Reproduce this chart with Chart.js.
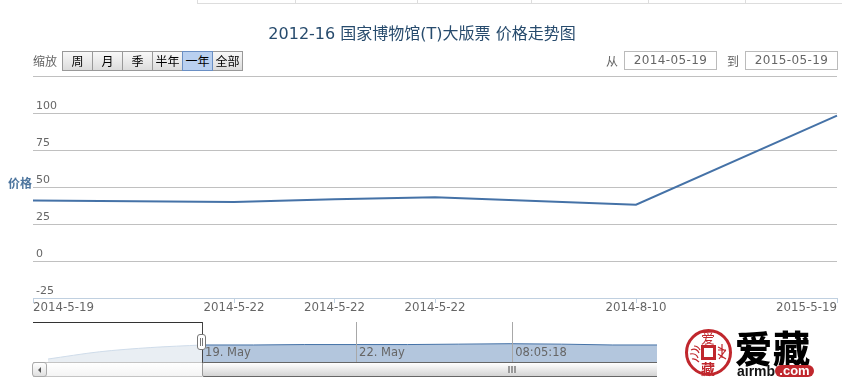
<!DOCTYPE html>
<html>
<head>
<meta charset="utf-8">
<script src="https://cdn.jsdelivr.net/npm/chart.js@4/dist/chart.umd.min.js"></script>
<style>
html,body{margin:0;padding:0;background:#fff;}
#page{position:relative;width:842px;height:386px;overflow:hidden;font-family:"DejaVu Sans","Noto Sans CJK SC",sans-serif;color:#666;}
#page div,#page span{position:absolute;box-sizing:border-box;}
#page svg{position:absolute;}
#main{position:absolute;left:0;top:0;width:842px;height:386px;}
#navWrap{position:absolute;left:47px;top:322px;width:610px;height:40px;}
.cell{top:0;height:4px;border-left:1px solid #ddd;border-bottom:1px solid #ddd;}
.btn{top:51px;width:31px;height:20px;border:1px solid #999;background:linear-gradient(#f8f8f8,#dcdcdc);color:#000;font-size:12px;line-height:18px;text-align:center;font-family:"Noto Sans CJK SC",sans-serif;}
.btn.on{background:#b9d0f0;border-color:#6a8fc4;z-index:2;}
.lbl{font-size:12px;line-height:20px;color:#666;font-family:"Noto Sans CJK SC",sans-serif;white-space:nowrap;}
.inp{top:51px;height:19px;width:93px;border:1px solid #bbb;font-size:12px;line-height:17px;text-align:center;color:#666;letter-spacing:.4px;white-space:nowrap;}
</style>
</head>
<body>
<div id="page">
  <div class="cell" style="left:197px;width:98px"></div>
  <div class="cell" style="left:295px;width:122px"></div>
  <div class="cell" style="left:417px;width:114px"></div>
  <div class="cell" style="left:531px;width:117px"></div>
  <div class="cell" style="left:648px;width:97px"></div>
  <div class="cell" style="left:745px;width:97px"></div>

  <canvas id="main" width="842" height="386"></canvas>

  <span class="lbl" style="left:33px;top:51px">缩放</span>
  <div class="btn" style="left:62px">周</div>
  <div class="btn" style="left:92px">月</div>
  <div class="btn" style="left:122px">季</div>
  <div class="btn" style="left:152px">半年</div>
  <div class="btn on" style="left:182px">一年</div>
  <div class="btn" style="left:212px">全部</div>
  <span class="lbl" style="left:606px;top:51px">从</span>
  <div class="inp" style="left:624px">2014-05-19</div>
  <span class="lbl" style="left:727px;top:51px">到</span>
  <div class="inp" style="left:745px">2015-05-19</div>
  <span style="left:8px;top:175px;font-size:12px;line-height:16px;font-weight:bold;color:#4d759e;font-family:'Noto Sans CJK SC',sans-serif;white-space:nowrap">价格</span>

  <div id="navWrap"><canvas id="nav" width="610" height="40"></canvas></div>

  <div style="left:33px;top:322px;width:170px;height:1px;background:#333"></div>
  <div style="left:202px;top:322px;width:1px;height:41px;background:#444"></div>
  <div style="left:33px;top:362px;width:169px;height:15px;border-top:1px solid #c4c4c4;border-bottom:1px solid #c4c4c4;background:linear-gradient(#fff,#f4f4f4)"></div>
  <div style="left:202px;top:362px;width:455px;height:15px;border-top:1px solid #666;border-bottom:1px solid #666;border-left:1px solid #999;border-radius:2px 0 0 2px;background:linear-gradient(#fff,#f2f2f2 30%,#d4d4d4)"></div>
  <div style="left:32px;top:362px;width:15px;height:15px;border:1px solid #aaa;border-radius:3px;background:linear-gradient(#fff,#e0e0e0)"></div>
  <div style="left:38px;top:367px;width:0;height:0;border-top:3px solid transparent;border-bottom:3px solid transparent;border-right:3px solid #555"></div>
  <div style="left:508px;top:366px;width:8px;height:7px;background:repeating-linear-gradient(90deg,#999 0,#999 2px,#eee 2px,#eee 3px)"></div>
  <div style="left:197px;top:334px;width:9px;height:16px;border:1px solid #777;border-radius:3px;background:#fff"></div>
  <div style="left:200px;top:338px;width:1px;height:8px;background:#777"></div>
  <div style="left:202px;top:338px;width:1px;height:8px;background:#777"></div>

  <!-- logo -->
  <div style="left:685px;top:329px;width:47px;height:47px;border-radius:50%;border:3px solid #c0272d;background:#fff"></div>
  <svg style="left:685px;top:329px" width="47" height="47" viewBox="0 0 47 47" fill="none" stroke="#c0272d" stroke-width="1.2">
    <path d="M6 21c4-2 7 0 8 3M5 25c4-1 7 1 8 4M7 30c3-1 5 1 7 3M9 17c3 0 5 2 6 4"/>
    <path d="M33 18l8 4M37 15v14M33 25l8 5M34 30l6-8M33 21h8"/>
  </svg>
  <span style="left:700px;top:329px;width:16px;text-align:center;font-size:14px;line-height:16px;color:#c0272d;font-family:'Noto Sans CJK SC',sans-serif">爱</span>
  <span style="left:700px;top:361px;width:16px;text-align:center;font-size:14px;line-height:14px;color:#c0272d;font-weight:bold;font-family:'Noto Sans CJK SC',sans-serif">藏</span>
  <div style="left:701px;top:345px;width:15px;height:15px;border:3px solid #c0272d;background:#fff"></div>
  <span style="left:735px;top:328px;font-size:37px;line-height:38px;font-weight:900;letter-spacing:1px;color:#000;font-family:'Noto Sans CJK SC',sans-serif;white-space:nowrap">爱藏</span>
  <span style="left:737px;top:363px;font-size:14px;line-height:16px;font-weight:bold;color:#111;font-family:'Liberation Sans',sans-serif;white-space:nowrap">airmb</span>
  <span style="left:775px;top:365px;width:39px;height:12px;border-radius:6px;background:#c0272d;color:#fff;font-size:13px;line-height:11px;font-weight:bold;text-align:center;font-family:'Liberation Sans',sans-serif;white-space:nowrap">.com</span>
</div>

<script>
const titleText = "2012-16 国家博物馆(T)大版票 价格走势图";
const categories = ["2014-5-19","","2014-5-22","2014-5-22","2014-5-22","","2014-8-10","","2015-5-19"];
const prices = [40.9,null,39.9,41.7,43,null,38,null,98.2];
const yTicks = [-25,0,25,50,75,100,125];

const navDays = [-3,-2,-1,0];
const navMasked = [7,24,34,40];
const navDaysShown = [0,1,2,3,4,5,6,7,8,8.86];
const navShown = [40,40,41,41,41,42,43,42,40,40];
const navTickDays = [0,3,6.04];
const navTickLabels = ["19. May","22. May","08:05:18"];

const sans = '"DejaVu Sans","Noto Sans CJK SC",sans-serif';

new Chart(document.getElementById('main'), {
  type: 'line',
  data: { labels: categories, datasets: [{
    data: prices, borderColor:'#4572A7', borderWidth:2, pointRadius:0, spanGaps:true, tension:0, fill:false
  }]},
  options: {
    responsive:false, animation:false,
    layout:{padding:{left:7,right:5,top:0,bottom:68}},
    plugins:{
      legend:{display:false}, tooltip:{enabled:false},
      title:{display:true,text:titleText,color:'#274b6d',
        font:{family:sans,size:16,weight:'normal',lineHeight:1.2},
        padding:{top:25,bottom:31.8}}
    },
    scales:{
      x:{
        type:'category',
        afterFit(s){s.height=20;},
        border:{color:'#C0D0E0'},
        grid:{drawOnChartArea:false,drawTicks:true,tickLength:5,
          tickColor:c=>categories[c.index]?'#C0D0E0':'transparent'},
        ticks:{autoSkip:false,maxRotation:0,minRotation:0,align:'inner',padding:-2,color:'#666',
          font:{family:sans,size:11.8}}
      },
      y:{
        min:-25,max:125,
        afterBuildTicks(s){s.ticks=yTicks.map(v=>({value:v}));},
        afterFit(s){s.width=26;},
        border:{display:false},
        grid:{color:c=>c.tick&&c.tick.value===-25?'transparent':'#C0C0C0',drawTicks:false},
        ticks:{mirror:true,padding:3,labelOffset:-7,color:'#666',font:{family:sans,size:11},
          callback:v=>v===125?'':String(v)}
      }
    }
  }
});

new Chart(document.getElementById('nav'), {
  type:'line',
  data:{datasets:[
    {data:navDays.map((d,i)=>({x:d,y:navMasked[i]})),borderColor:'#cfdcea',borderWidth:1,backgroundColor:'#e9eef3',fill:'origin',pointRadius:0,tension:0.3},
    {data:navDaysShown.map((d,i)=>({x:d,y:navShown[i]})),borderColor:'#4572A7',borderWidth:1,backgroundColor:'#b3c6dd',fill:'origin',pointRadius:0,tension:0}
  ]},
  options:{
    responsive:false,animation:false,
    layout:{padding:0},
    plugins:{legend:{display:false},tooltip:{enabled:false},title:{display:false}},
    scales:{
      x:{
        type:'linear',min:-3.02,max:8.86,
        afterBuildTicks(s){s.ticks=navTickDays.map(v=>({value:v}));},
        afterFit(s){s.height=0;},
        border:{display:false},
        grid:{color:'#a8a8a8',drawTicks:false,z:1},
        ticks:{autoSkip:false,maxRotation:0,minRotation:0,mirror:true,align:'start',padding:2,labelOffset:3,z:2,color:'#666',
          font:{family:sans,size:11.5},
          callback:(v,i)=>navTickLabels[i]}
      },
      y:{display:false,min:0,max:94}
    }
  }
});
</script>
</body>
</html>
